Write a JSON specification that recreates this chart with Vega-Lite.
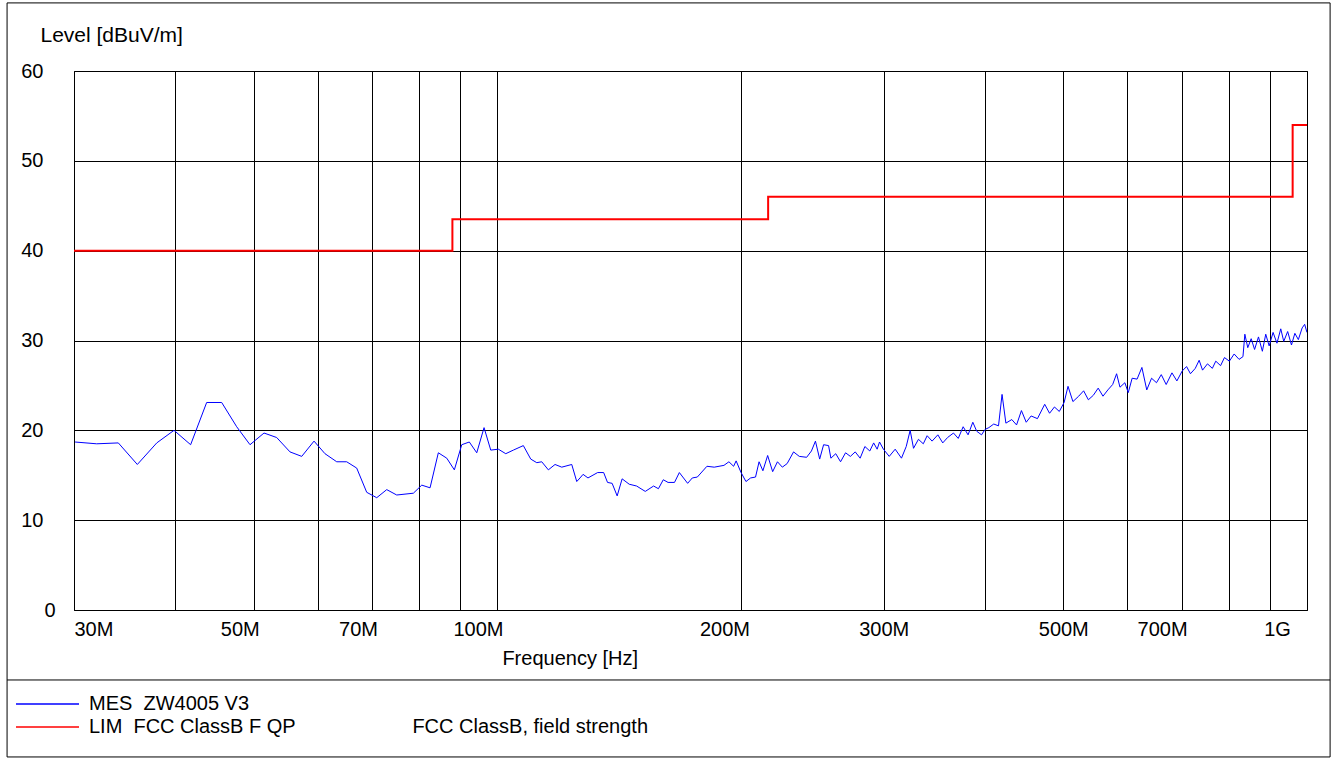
{
  "$schema": "https://vega.github.io/schema/vega-lite/v6.json",
  "width": 1233,
  "height": 539,
  "autosize": {"type": "none"},
  "padding": {"left": 74, "top": 71, "right": 31, "bottom": 148},
  "background": "#ffffff",
  "config": {
    "view": {"stroke": "#000000", "strokeWidth": 1},
    "font": "Liberation Sans"
  },
  "datasets": {
    "mes": [
      {"s": "M", "f": 30.09, "v": 18.7}, {"s": "M", "f": 32.0, "v": 18.5}, {"s": "M", "f": 34.03, "v": 18.6}, {"s": "M", "f": 35.92, "v": 16.2},
      {"s": "M", "f": 37.96, "v": 18.6}, {"s": "M", "f": 39.87, "v": 20.0}, {"s": "M", "f": 41.8, "v": 18.4}, {"s": "M", "f": 43.75, "v": 23.1},
      {"s": "M", "f": 45.66, "v": 23.1}, {"s": "M", "f": 47.65, "v": 20.4}, {"s": "M", "f": 49.49, "v": 18.4}, {"s": "M", "f": 51.5, "v": 19.7},
      {"s": "M", "f": 53.39, "v": 19.2}, {"s": "M", "f": 55.45, "v": 17.6}, {"s": "M", "f": 57.33, "v": 17.1}, {"s": "M", "f": 59.37, "v": 18.8},
      {"s": "M", "f": 61.25, "v": 17.4}, {"s": "M", "f": 63.33, "v": 16.5}, {"s": "M", "f": 65.15, "v": 16.5}, {"s": "M", "f": 67.03, "v": 15.8},
      {"s": "M", "f": 68.97, "v": 13.1}, {"s": "M", "f": 70.96, "v": 12.5}, {"s": "M", "f": 73.01, "v": 13.4}, {"s": "M", "f": 75.11, "v": 12.8},
      {"s": "M", "f": 78.75, "v": 13.0}, {"s": "M", "f": 80.66, "v": 13.9}, {"s": "M", "f": 82.58, "v": 13.6}, {"s": "M", "f": 84.55, "v": 17.5},
      {"s": "M", "f": 86.6, "v": 16.9}, {"s": "M", "f": 88.49, "v": 15.6}, {"s": "M", "f": 90.37, "v": 18.4}, {"s": "M", "f": 92.34, "v": 18.7},
      {"s": "M", "f": 94.31, "v": 17.5}, {"s": "M", "f": 96.29, "v": 20.3}, {"s": "M", "f": 98.14, "v": 17.8}, {"s": "M", "f": 100.28, "v": 17.9},
      {"s": "M", "f": 102.42, "v": 17.4}, {"s": "M", "f": 104.66, "v": 17.8}, {"s": "M", "f": 107.67, "v": 18.3}, {"s": "M", "f": 109.96, "v": 16.8},
      {"s": "M", "f": 111.86, "v": 16.4}, {"s": "M", "f": 113.46, "v": 16.5}, {"s": "M", "f": 115.61, "v": 15.6}, {"s": "M", "f": 117.83, "v": 16.2},
      {"s": "M", "f": 120.1, "v": 15.9}, {"s": "M", "f": 123.56, "v": 16.2}, {"s": "M", "f": 125.33, "v": 14.3}, {"s": "M", "f": 126.51, "v": 14.7},
      {"s": "M", "f": 127.6, "v": 15.1}, {"s": "M", "f": 129.4, "v": 14.7}, {"s": "M", "f": 133.0, "v": 15.3}, {"s": "M", "f": 135.3, "v": 15.3},
      {"s": "M", "f": 136.8, "v": 14.2}, {"s": "M", "f": 138.6, "v": 14.1}, {"s": "M", "f": 140.6, "v": 12.7}, {"s": "M", "f": 142.6, "v": 14.6},
      {"s": "M", "f": 145.5, "v": 14.0}, {"s": "M", "f": 148.6, "v": 13.8}, {"s": "M", "f": 152.3, "v": 13.2}, {"s": "M", "f": 155.95, "v": 13.8},
      {"s": "M", "f": 158.1, "v": 13.5}, {"s": "M", "f": 160.3, "v": 14.5}, {"s": "M", "f": 162.5, "v": 14.2}, {"s": "M", "f": 165.5, "v": 14.2},
      {"s": "M", "f": 167.8, "v": 15.3}, {"s": "M", "f": 171.8, "v": 14.1}, {"s": "M", "f": 174.1, "v": 14.7}, {"s": "M", "f": 176.6, "v": 14.8},
      {"s": "M", "f": 181.5, "v": 16.0}, {"s": "M", "f": 185.3, "v": 15.9}, {"s": "M", "f": 190.5, "v": 16.1}, {"s": "M", "f": 193.2, "v": 16.5},
      {"s": "M", "f": 195.8, "v": 16.0}, {"s": "M", "f": 197.2, "v": 16.6}, {"s": "M", "f": 200.0, "v": 15.3}, {"s": "M", "f": 202.8, "v": 14.3},
      {"s": "M", "f": 205.5, "v": 14.7}, {"s": "M", "f": 208.4, "v": 14.8}, {"s": "M", "f": 210.5, "v": 16.5}, {"s": "M", "f": 212.8, "v": 15.5},
      {"s": "M", "f": 215.7, "v": 17.2}, {"s": "M", "f": 218.8, "v": 15.4}, {"s": "M", "f": 221.8, "v": 16.5}, {"s": "M", "f": 224.9, "v": 15.9},
      {"s": "M", "f": 228.0, "v": 16.3}, {"s": "M", "f": 232.2, "v": 17.6}, {"s": "M", "f": 236.0, "v": 17.1}, {"s": "M", "f": 241.0, "v": 17.0},
      {"s": "M", "f": 244.3, "v": 17.7}, {"s": "M", "f": 247.1, "v": 18.8}, {"s": "M", "f": 250.1, "v": 16.8}, {"s": "M", "f": 252.9, "v": 18.4},
      {"s": "M", "f": 256.5, "v": 18.3}, {"s": "M", "f": 258.2, "v": 16.9}, {"s": "M", "f": 261.8, "v": 17.4}, {"s": "M", "f": 265.4, "v": 16.5},
      {"s": "M", "f": 269.2, "v": 17.5}, {"s": "M", "f": 272.9, "v": 17.1}, {"s": "M", "f": 276.7, "v": 17.6}, {"s": "M", "f": 280.6, "v": 16.9},
      {"s": "M", "f": 284.4, "v": 18.2}, {"s": "M", "f": 288.4, "v": 17.7}, {"s": "M", "f": 291.6, "v": 18.6}, {"s": "M", "f": 294.5, "v": 17.9},
      {"s": "M", "f": 296.5, "v": 18.7}, {"s": "M", "f": 299.8, "v": 17.9}, {"s": "M", "f": 304.8, "v": 17.1}, {"s": "M", "f": 310.0, "v": 17.9},
      {"s": "M", "f": 315.6, "v": 16.9}, {"s": "M", "f": 319.9, "v": 18.2}, {"s": "M", "f": 323.5, "v": 20.0}, {"s": "M", "f": 326.6, "v": 18.0},
      {"s": "M", "f": 331.2, "v": 19.0}, {"s": "M", "f": 335.8, "v": 18.5}, {"s": "M", "f": 339.5, "v": 19.4}, {"s": "M", "f": 344.3, "v": 18.8},
      {"s": "M", "f": 350.0, "v": 19.5}, {"s": "M", "f": 354.9, "v": 18.6}, {"s": "M", "f": 359.8, "v": 19.2}, {"s": "M", "f": 365.9, "v": 19.7},
      {"s": "M", "f": 370.9, "v": 19.1}, {"s": "M", "f": 376.1, "v": 20.4}, {"s": "M", "f": 381.4, "v": 19.5}, {"s": "M", "f": 386.6, "v": 20.9},
      {"s": "M", "f": 390.9, "v": 19.9}, {"s": "M", "f": 396.3, "v": 19.5}, {"s": "M", "f": 400.3, "v": 20.1}, {"s": "M", "f": 404.6, "v": 20.3},
      {"s": "M", "f": 410.3, "v": 20.7}, {"s": "M", "f": 415.9, "v": 20.5}, {"s": "M", "f": 420.1, "v": 24.0}, {"s": "M", "f": 424.7, "v": 20.8},
      {"s": "M", "f": 431.9, "v": 21.2}, {"s": "M", "f": 437.8, "v": 20.6}, {"s": "M", "f": 443.9, "v": 22.2}, {"s": "M", "f": 450.0, "v": 20.9},
      {"s": "M", "f": 456.3, "v": 21.6}, {"s": "M", "f": 464.6, "v": 21.3}, {"s": "M", "f": 474.3, "v": 22.9}, {"s": "M", "f": 480.9, "v": 21.9},
      {"s": "M", "f": 487.6, "v": 22.6}, {"s": "M", "f": 494.4, "v": 22.1}, {"s": "M", "f": 501.2, "v": 23.1}, {"s": "M", "f": 506.8, "v": 24.9},
      {"s": "M", "f": 513.9, "v": 23.2}, {"s": "M", "f": 522.4, "v": 23.8}, {"s": "M", "f": 529.8, "v": 24.4}, {"s": "M", "f": 537.0, "v": 23.4},
      {"s": "M", "f": 544.6, "v": 23.9}, {"s": "M", "f": 552.2, "v": 24.7}, {"s": "M", "f": 559.8, "v": 23.8}, {"s": "M", "f": 567.6, "v": 24.5},
      {"s": "M", "f": 575.4, "v": 25.1}, {"s": "M", "f": 581.9, "v": 26.3}, {"s": "M", "f": 587.5, "v": 24.8}, {"s": "M", "f": 595.7, "v": 25.3},
      {"s": "M", "f": 601.5, "v": 24.2}, {"s": "M", "f": 608.2, "v": 25.8}, {"s": "M", "f": 616.8, "v": 25.7}, {"s": "M", "f": 625.3, "v": 27.0},
      {"s": "M", "f": 634.0, "v": 24.5}, {"s": "M", "f": 642.7, "v": 25.8}, {"s": "M", "f": 651.8, "v": 25.3}, {"s": "M", "f": 660.7, "v": 26.2},
      {"s": "M", "f": 670.0, "v": 25.1}, {"s": "M", "f": 681.1, "v": 26.4}, {"s": "M", "f": 690.7, "v": 25.5}, {"s": "M", "f": 701.2, "v": 26.6},
      {"s": "M", "f": 710.0, "v": 27.1}, {"s": "M", "f": 717.9, "v": 26.3}, {"s": "M", "f": 727.8, "v": 26.9}, {"s": "M", "f": 735.9, "v": 27.8},
      {"s": "M", "f": 743.0, "v": 26.7}, {"s": "M", "f": 753.5, "v": 27.4}, {"s": "M", "f": 764.0, "v": 26.9}, {"s": "M", "f": 771.5, "v": 27.7},
      {"s": "M", "f": 782.1, "v": 27.2}, {"s": "M", "f": 790.8, "v": 28.1}, {"s": "M", "f": 801.9, "v": 27.7}, {"s": "M", "f": 812.9, "v": 28.5},
      {"s": "M", "f": 824.3, "v": 27.9}, {"s": "M", "f": 833.5, "v": 28.2}, {"s": "M", "f": 838.0, "v": 30.7}, {"s": "M", "f": 845.0, "v": 29.2},
      {"s": "M", "f": 853.2, "v": 30.2}, {"s": "M", "f": 861.5, "v": 29.0}, {"s": "M", "f": 871.1, "v": 30.4}, {"s": "M", "f": 880.8, "v": 28.8},
      {"s": "M", "f": 889.3, "v": 30.7}, {"s": "M", "f": 898.0, "v": 29.4}, {"s": "M", "f": 908.0, "v": 30.9}, {"s": "M", "f": 918.1, "v": 29.7},
      {"s": "M", "f": 928.1, "v": 31.3}, {"s": "M", "f": 936.0, "v": 29.9}, {"s": "M", "f": 946.5, "v": 31.0}, {"s": "M", "f": 956.8, "v": 29.5},
      {"s": "M", "f": 966.1, "v": 30.8}, {"s": "M", "f": 975.7, "v": 30.1}, {"s": "M", "f": 986.3, "v": 31.4}, {"s": "M", "f": 993.4, "v": 31.8},
      {"s": "M", "f": 999.9, "v": 30.9}
    ],
    "lim": [
      {"s": "L", "f": 30, "v": 40}, {"s": "L", "f": 88, "v": 43.5}, {"s": "L", "f": 216, "v": 46}, {"s": "L", "f": 960, "v": 54}, {"s": "L", "f": 1000, "v": 54}
    ]
  },
  "layer": [
    {
      "data": {"name": "mes"},
      "mark": {"type": "line", "strokeWidth": 1, "clip": true},
      "encoding": {
        "x": {
          "field": "f", "type": "quantitative",
          "scale": {"type": "log", "domain": [30, 1000], "nice": false},
          "axis": {
            "values": [30, 40, 50, 60, 70, 80, 90, 100, 200, 300, 400, 500, 600, 700, 800, 900, 1000],
            "labelExpr": "datum.value == 30 ? '30M' : datum.value == 50 ? '50M\u00a0\u00a0\u00a0\u00a0\u00a0\u200b' : datum.value == 70 ? '70M\u00a0\u00a0\u00a0\u00a0\u00a0\u200b' : datum.value == 100 ? '100M\u00a0\u00a0\u00a0\u00a0\u00a0\u00a0\u00a0\u200b' : datum.value == 200 ? '200M\u00a0\u00a0\u00a0\u00a0\u00a0\u00a0\u200b' : datum.value == 300 ? '300M' : datum.value == 500 ? '500M' : datum.value == 700 ? '700M\u00a0\u00a0\u00a0\u00a0\u00a0\u00a0\u00a0\u200b' : datum.value == 1000 ? '1G\u00a0\u00a0\u00a0\u200b' : ''",
            "grid": true, "gridColor": "#000000", "gridOpacity": 1, "gridWidth": 1,
            "ticks": false, "tickSize": 0, "domain": false,
            "labelFont": "Liberation Sans", "labelFontSize": 20, "labelColor": "#000000",
            "labelBaseline": "alphabetic", "labelPadding": 25,
            "labelAlign": {"condition": [
              {"test": "datum.value == 30", "value": "left"},
              {"test": "datum.value == 1000", "value": "right"}
            ], "value": "center"},
            "labelOverlap": false, "labelFlush": false, "labelBound": false,
            "title": "Frequency [Hz]",
            "titleFont": "Liberation Sans", "titleFontSize": 20, "titleFontWeight": "normal", "titleColor": "#000000",
            "titleX": 495.7, "titleY": 54.7, "titleAlign": "center", "titleBaseline": "alphabetic"
          }
        },
        "y": {
          "field": "v", "type": "quantitative",
          "scale": {"domain": [0, 60], "nice": false, "zero": false},
          "axis": {
            "values": [0, 10, 20, 30, 40, 50, 60],
            "grid": true, "gridColor": "#000000", "gridOpacity": 1, "gridWidth": 1,
            "ticks": false, "tickSize": 0, "domain": false,
            "labelFont": "Liberation Sans", "labelFontSize": 20, "labelColor": "#000000",
            "labelBaseline": "middle", "labelAlign": "right",
            "labelOverlap": false, "labelFlush": false, "labelBound": false,
            "labelPadding": {"condition": {"test": "datum.value == 0", "value": 19}, "value": 31},
            "title": "Level [dBuV/m]",
            "titleFont": "Liberation Sans", "titleFontSize": 21, "titleFontWeight": "normal", "titleColor": "#000000",
            "titleAngle": 0, "titleX": -34, "titleY": -30, "titleAlign": "left", "titleBaseline": "alphabetic"
          }
        },
        "color": {
          "field": "s",
          "type": "nominal",
          "scale": {"domain": ["M", "L"], "range": ["#0000ff", "#ff0000"]},
          "legend": {
            "orient": "none", "legendX": -38, "legendY": 621.5, "title": null,
            "symbolType": "M-3,0H3", "symbolSize": 441, "symbolStrokeWidth": 1.5,
            "labelExpr": "datum.value == 'M' ? 'MES\u00a0\u00a0ZW4005 V3' : 'LIM\u00a0\u00a0FCC ClassB F QP\u00a0\u00a0\u00a0\u00a0\u00a0\u00a0\u00a0\u00a0\u00a0\u00a0\u00a0\u00a0\u00a0\u00a0\u00a0\u00a0\u00a0\u00a0\u00a0\u00a0\u00a0FCC ClassB, field strength'",
            "labelFont": "Liberation Sans", "labelFontSize": 20, "labelColor": "#000000",
            "labelOffset": 30, "labelLimit": 0, "rowPadding": 1, "padding": 0, "direction": "vertical"
          }
        }
      }
    },
    {
      "data": {"name": "lim"},
      "mark": {"type": "line", "strokeWidth": 2, "interpolate": "step-after", "clip": true},
      "encoding": {
        "x": {"field": "f", "type": "quantitative"},
        "y": {"field": "v", "type": "quantitative"},
        "color": {"field": "s", "type": "nominal"}
      }
    },
    {
      "data": {"values": [{}]},
      "mark": {"type": "rect", "filled": false, "stroke": "#000000", "strokeWidth": 1, "clip": false},
      "encoding": {
        "x": {"datum": 24.8, "type": "quantitative"},
        "x2": {"datum": 1067.9},
        "y": {"datum": 67.58, "type": "quantitative"},
        "y2": {"datum": -16.36}
      }
    },
    {
      "data": {"values": [{}]},
      "mark": {"type": "rule", "stroke": "#000000", "strokeWidth": 1, "clip": false},
      "encoding": {
        "x": {"datum": 24.8, "type": "quantitative"},
        "x2": {"datum": 1067.9},
        "y": {"datum": -7.79, "type": "quantitative"}
      }
    }
  ]
}
